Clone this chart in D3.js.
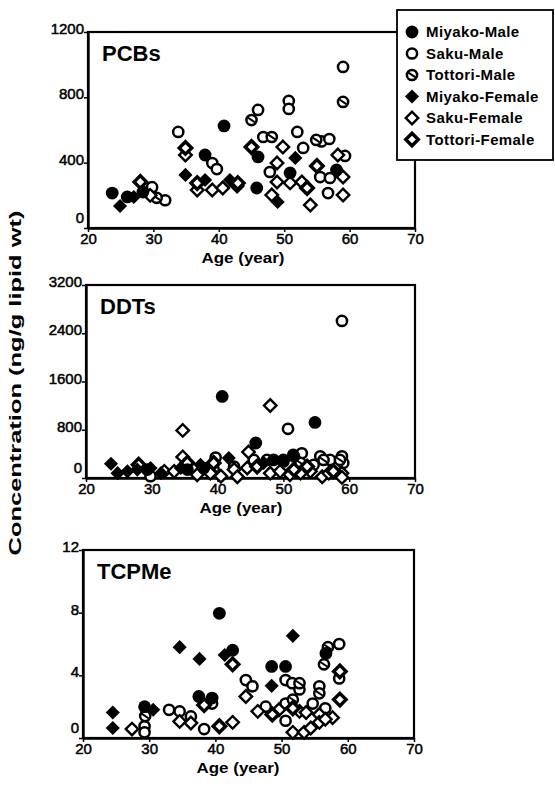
<!DOCTYPE html>
<html>
<head>
<meta charset="utf-8">
<script src="https://cdn.jsdelivr.net/npm/d3@7"></script>
<style>
    body { margin: 0; background: #fff; }
    svg text { font-family: "Liberation Sans", Arial, sans-serif; fill: #000; }
    .axis path, .axis line { stroke: #000; }
    .axis .domain { stroke-width: 2.4; }
    .axis .tick line { stroke-width: 1.5; }
    .axis .tick text { font-size: 15px; stroke: #000; stroke-width: 0.5; }
</style>
</head>
<body>
<svg id="chart" width="555" height="787"></svg>
<script>
// Groups shown in the legend (same order as the legend)
const groups = ['Miyako-Male', 'Saku-Male', 'Tottori-Male', 'Miyako-Female', 'Saku-Female', 'Tottori-Female'];
const xTicks = [20, 30, 40, 50, 60, 70];

// PCBs: [age, ng/g lipid wt]
const pcbMiyakoMale = [[23.7, 214], [26, 190], [28.4, 220], [37.9, 447], [40.8, 625], [45.8, 245], [46, 435], [50.9, 337], [58, 355]];
const pcbSakuMale = [[29.8, 250], [31.8, 170], [33.8, 588], [39, 398], [39.7, 361], [46, 723], [46.8, 557], [47.8, 343], [50.7, 778], [50.7, 729], [52, 588], [52.9, 490], [55.7, 530], [56.9, 545], [55.5, 312], [57, 306], [56.7, 214], [59.3, 441], [59, 986]];
const pcbTottoriMale = [[30.5, 185], [45, 661], [48.1, 557], [54.9, 539], [59, 772]];
const pcbMiyakoFemale = [[24.9, 135], [27, 190], [34.9, 325], [37.9, 294], [41.7, 294], [49, 159], [51.7, 429]];
const pcbSakuFemale = [[29.5, 200], [34.9, 447], [36.7, 233], [39, 233], [40.6, 245], [42.8, 257], [49.8, 496], [48.9, 398], [48.1, 202], [48.9, 282], [50.9, 276], [52.7, 282], [54, 141], [58.2, 447], [59, 312], [59, 202]];
const pcbTottoriFemale = [[28, 282], [34.9, 490], [36.7, 275], [42.9, 275], [45, 496], [53.5, 245], [55, 380]];
const pcbTicks = [0, 400, 800, 1200];

// DDTs
const ddtMiyakoMale = [[29.3, 140], [35.4, 140], [37.9, 165], [40.7, 1352], [45.8, 580], [48.5, 300], [50, 275], [51.6, 360], [54.8, 921]];
const ddtSakuMale = [[29.8, 30], [39.7, 340], [42.5, 190], [45.5, 300], [50, 300], [50.7, 816], [51.5, 385], [52.8, 410], [54.6, 220], [55.6, 360], [57.1, 300], [58.9, 2604], [58.9, 360], [59.1, 250]];
const ddtTottoriMale = [[39.4, 140], [47.5, 300], [52.6, 250], [56.1, 300], [58.6, 300]];
const ddtMiyakoFemale = [[23.8, 237], [24.8, 80], [26.3, 110], [27.8, 140], [29.8, 165], [31.4, 80], [34.4, 165], [37.4, 220], [41.7, 330], [47, 250]];
const ddtSakuFemale = [[31.9, 110], [33.4, 110], [34.7, 789], [34.7, 350], [36.9, 55], [38.9, 80], [40.5, 30], [42.5, 140], [43, 20], [44.5, 165], [44.7, 430], [48, 1203], [48, 80], [49.5, 110], [51, 55], [52.6, 80], [54.1, 110], [55.9, 20], [56.9, 80], [58.9, 80], [58.9, 10]];
const ddtTottoriFemale = [[28, 220], [35.4, 250], [39.4, 250], [46, 190], [51.6, 140], [53.6, 190], [57.6, 110]];
const ddtTicks = [0, 800, 1600, 2400, 3200];

// TCPMe
const tcpMiyakoMale = [[29.3, 2.0], [37.5, 2.65], [39.5, 2.55], [40.6, 7.96], [42.6, 5.6], [48.5, 4.57], [50.6, 4.57], [56.7, 5.4]];
const tcpSakuMale = [[29.3, 0.75], [29.3, 0.36], [33, 1.8], [34.6, 1.7], [36.3, 1.38], [38.3, 0.57], [39.5, 2.2], [44.6, 3.7], [45.6, 3.3], [47.6, 2.0], [50.6, 2.2], [50.6, 1.1], [50.6, 3.7], [51.6, 3.5], [52.7, 3.1], [54.7, 2.2], [55.7, 3.3], [56.6, 1.9], [58.7, 6.0], [58.7, 3.8]];
const tcpTottoriMale = [[29.4, 1.4], [51.7, 2.45], [52.7, 3.5], [55.7, 2.85], [56.4, 4.7], [57, 5.8]];
const tcpMiyakoFemale = [[24.5, 1.63], [24.5, 0.64], [30.6, 1.8], [34.6, 5.8], [37.6, 5.05], [41.4, 5.3], [48.5, 3.33], [51.7, 6.52]];
const tcpSakuFemale = [[27.4, 0.57], [34.6, 1.06], [36.3, 0.96], [42.6, 1.0], [44.6, 2.65], [46.4, 1.7], [49.6, 1.8], [51.7, 0.36], [52.7, 1.7], [53.4, 0.36], [53.7, 1.63], [54.4, 0.64], [55.7, 1.5], [55.7, 1.0], [57.7, 1.3], [56.6, 1.2]];
const tcpTottoriFemale = [[38.3, 2.1], [40.6, 0.75], [42.6, 4.7], [48.6, 1.5], [51.7, 1.9], [58.8, 4.25], [58.8, 2.45]];
const tcpTicks = [0, 4, 8, 12];

// panel layout
const panels = [
    { title: 'PCBs', left: 88, top: 32, width: 327, height: 196, yTicks: pcbTicks,
      series: [pcbSakuMale, pcbTottoriMale, pcbSakuFemale, pcbTottoriFemale, pcbMiyakoMale, pcbMiyakoFemale],
      groupIdx: [1, 2, 4, 5, 0, 3] },
    { title: 'DDTs', left: 86, top: 285, width: 329, height: 193, yTicks: ddtTicks,
      series: [ddtSakuMale, ddtTottoriMale, ddtSakuFemale, ddtTottoriFemale, ddtMiyakoMale, ddtMiyakoFemale],
      groupIdx: [1, 2, 4, 5, 0, 3] },
    { title: 'TCPMe', left: 83, top: 550, width: 331, height: 188, yTicks: tcpTicks,
      series: [tcpSakuMale, tcpTottoriMale, tcpSakuFemale, tcpTottoriFemale, tcpMiyakoMale, tcpMiyakoFemale],
      groupIdx: [1, 2, 4, 5, 0, 3] }
];

const svg = d3.select('#chart');

// draw one marker of a given group at (x, y)
function drawMarker(g, group, x, y) {
    const m = g.append('g').attr('transform', `translate(${x},${y})`);
    if (group === 'Miyako-Male') {
        m.append('circle').attr('r', 6.4).attr('fill', '#000');
    } else if (group === 'Saku-Male' || group === 'Tottori-Male') {
        m.append('circle').attr('r', 5.1).attr('fill', '#fff')
            .attr('stroke', '#000').attr('stroke-width', 2.5);
        if (group === 'Tottori-Male') {
            m.append('line').attr('x1', -3.6).attr('y1', -2.4).attr('x2', 3.6).attr('y2', 2.4)
                .attr('stroke', '#000').attr('stroke-width', 2);
        }
    } else {
        const path = d3.symbol().type(d3.symbolSquare).size(group === 'Miyako-Female' ? 100 : 78)();
        const d = m.append('path').attr('d', path).attr('transform', 'rotate(45)');
        if (group === 'Miyako-Female') {
            d.attr('fill', '#000');
        } else {
            d.attr('fill', '#fff').attr('stroke', '#000')
                .attr('stroke-width', group === 'Tottori-Female' ? 3.4 : 2.4);
        }
    }
}

panels.forEach(p => {
    const x = d3.scaleLinear().domain([20, 70]).range([0, p.width]);
    const y = d3.scaleLinear().domain([0, p.yTicks[p.yTicks.length - 1]]).range([p.height, 0]);
    const g = svg.append('g').attr('transform', `translate(${p.left},${p.top})`);

    // frame
    g.append('rect').attr('width', p.width).attr('height', p.height)
        .attr('fill', 'none').attr('stroke', '#000').attr('stroke-width', 2.2);

    const yAxis = g.append('g').attr('class', 'axis')
        .call(d3.axisLeft(y).tickValues(p.yTicks).tickFormat(d3.format('d'))
            .tickSize(4).tickSizeOuter(0).tickPadding(0));
    g.append('g').attr('class', 'axis')
        .attr('transform', `translate(0,${p.height})`)
        .call(d3.axisBottom(x).tickValues(xTicks).tickFormat(d3.format('d'))
            .tickSize(4).tickSizeOuter(0).tickPadding(1));
    // the zero label sits a little above the corner, clear of the "20"
    yAxis.selectAll('.tick text').attr('dy', d => d === 0 ? '-0.35em' : '0.1em');

    // points
    p.series.forEach((s, i) => {
        const group = groups[p.groupIdx[i]];
        s.forEach(d => drawMarker(g, group, x(d[0]), y(d[1])));
    });

    g.append('text').attr('x', 14).attr('y', 29)
        .attr('font-size', 22).attr('font-weight', 'bold').text(p.title);

    g.append('text').attr('x', 155).attr('y', p.height + 35)
        .attr('text-anchor', 'middle').attr('font-size', 14).attr('font-weight', 'bold')
        .attr('textLength', 83).attr('lengthAdjust', 'spacingAndGlyphs')
        .text('Age (year)');
});

// y-axis title
svg.append('text')
    .attr('transform', 'translate(21,383) rotate(-90)')
    .attr('text-anchor', 'middle').attr('font-size', 17).attr('font-weight', 'bold')
    .attr('textLength', 345).attr('lengthAdjust', 'spacingAndGlyphs')
    .text('Concentration (ng/g lipid wt)');

// legend
const legend = svg.append('g').attr('transform', 'translate(397,10)');
legend.append('rect').attr('width', 156).attr('height', 150)
    .attr('fill', '#fff').attr('stroke', '#000').attr('stroke-width', 1.8);
groups.forEach((grp, i) => {
    const row = 22 + i * 21.5;
    drawMarker(legend, grp, 15, row);
    legend.append('text').attr('x', 29).attr('y', row + 5)
        .attr('font-size', 15).attr('font-weight', 'bold').attr('letter-spacing', 0.4)
        .text(grp);
});
</script>
</body>
</html>
